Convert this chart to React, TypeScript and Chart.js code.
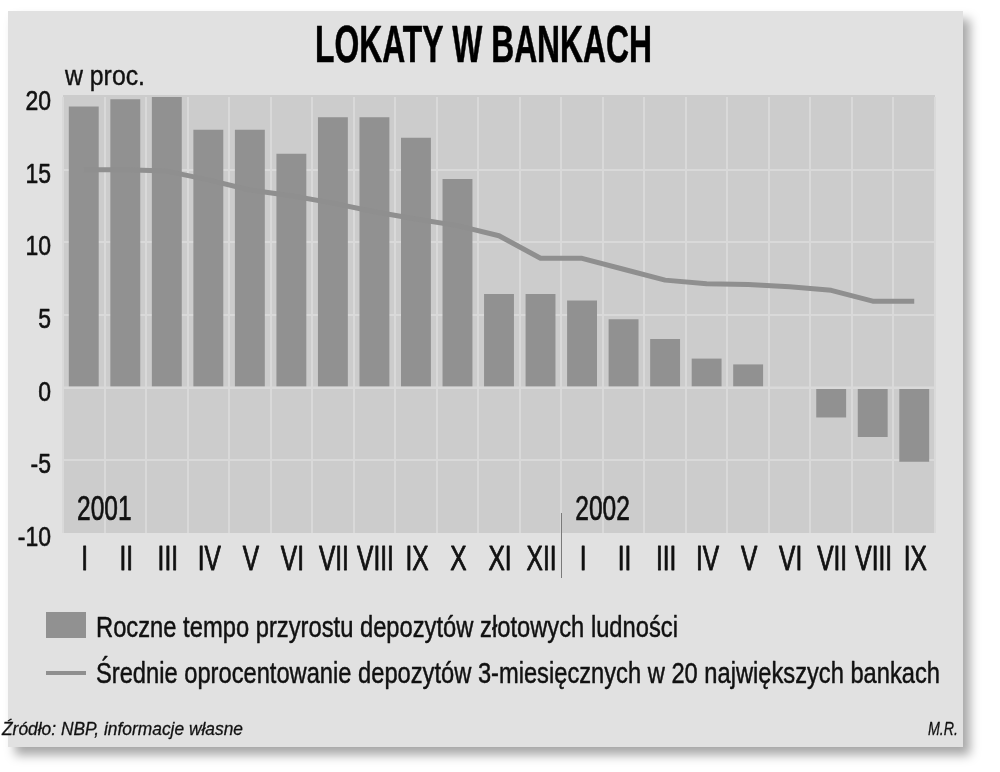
import React, { useEffect, useRef } from 'react';
import { Chart, registerables } from 'chart.js';

Chart.register(...registerables);

// ---------- data ----------
const MONTHS = ['I', 'II', 'III', 'IV', 'V', 'VI', 'VII', 'VIII', 'IX', 'X', 'XI', 'XII', 'I', 'II', 'III', 'IV', 'V', 'VI', 'VII', 'VIII', 'IX'];
const YEAR_LABELS = ['2001', '2002'];
const YEAR_START_INDEX = [0, 12];
// Roczne tempo przyrostu depozytów złotowych ludności (%)
const GROWTH = [19.35, 19.85, 20.0, 17.75, 17.75, 16.1, 18.6, 18.6, 17.2, 14.35, 6.45, 6.45, 6.0, 4.7, 3.35, 2.0, 1.6, 0, -2.05, -3.4, -5.1];
// Średnie oprocentowanie depozytów 3-miesięcznych (%)
const RATE = [15.0, 15.0, 14.9, 14.3, 13.6, 13.2, 12.7, 12.1, 11.6, 11.15, 10.45, 8.9, 8.9, 8.15, 7.4, 7.15, 7.1, 6.95, 6.7, 5.95, 5.95];
const Y_TICKS = [20, 15, 10, 5, 0, -5, -10];

const TITLE = 'LOKATY W BANKACH';
const UNIT = 'w proc.';
const LEGEND_BARS = 'Roczne tempo przyrostu depozytów złotowych ludności';
const LEGEND_LINE = 'Średnie oprocentowanie depozytów 3-miesięcznych w 20 największych bankach';
const SOURCE = 'Źródło: NBP, informacje własne';
const AUTHOR = 'M.R.';

// ---------- styles ----------
const CARD_BG = '#e1e1e1';
const PLOT_BG = '#cccccc';
const GRID = '#d9d9d9';
const BAR_COLOR = '#919191';
const LINE_COLOR = '#8f8f8f';
const TEXT = '#111111';
const FONT = '"Liberation Sans", Arial, Helvetica, sans-serif';

function paintText(ctx: CanvasRenderingContext2D, text: string, bold: number) {
  ctx.fillText(text, 0, 0);
  if (bold > 0) {
    ctx.lineWidth = bold;
    ctx.strokeStyle = ctx.fillStyle as string;
    ctx.lineJoin = 'round';
    ctx.strokeText(text, 0, 0);
  }
}

function drawFit(ctx: CanvasRenderingContext2D, text: string, x: number, baseline: number, font: string, targetW: number, bold = 0) {
  ctx.save();
  ctx.font = font;
  const w = ctx.measureText(text).width;
  const s = targetW / w;
  ctx.translate(x, baseline);
  ctx.scale(s, 1);
  ctx.textAlign = 'left';
  ctx.textBaseline = 'alphabetic';
  paintText(ctx, text, bold);
  ctx.restore();
}

function drawScaled(ctx: CanvasRenderingContext2D, text: string, x: number, baseline: number, font: string, sx: number, align: 'left' | 'center' | 'right', bold = 0) {
  ctx.save();
  ctx.font = font;
  const w = ctx.measureText(text).width * sx;
  const x0 = align === 'left' ? x : align === 'center' ? x - w / 2 : x - w;
  ctx.translate(x0, baseline);
  ctx.scale(sx, 1);
  ctx.textAlign = 'left';
  ctx.textBaseline = 'alphabetic';
  paintText(ctx, text, bold);
  ctx.restore();
}

const decorPlugin = {
  id: 'decor',
  beforeDraw(chart: any) {
    const { ctx, chartArea: a } = chart;
    ctx.save();
    ctx.fillStyle = PLOT_BG;
    ctx.fillRect(a.left, a.top - 2, a.right - a.left, a.bottom - a.top + 2);
    ctx.restore();
  },
  afterDatasetsDraw(chart: any) {
    const { ctx, chartArea: a, scales } = chart;
    const y0 = scales.y.getPixelForValue(0);
    ctx.save();
    ctx.strokeStyle = GRID;
    ctx.lineWidth = 2.5;
    ctx.beginPath();
    ctx.moveTo(a.left, y0);
    ctx.lineTo(a.right, y0);
    ctx.stroke();
    ctx.restore();
  },
  afterDraw(chart: any) {
    const { ctx, chartArea: a, scales } = chart;
    const xs = scales.x;
    const ys = scales.y;
    const step = xs.getPixelForValue(1) - xs.getPixelForValue(0);
    ctx.save();

    // title
    ctx.fillStyle = '#000';
    drawFit(ctx, TITLE, 315, 62, `bold 52px ${FONT}`, 337, 0.6);
    ctx.fillStyle = TEXT;

    // unit
    drawFit(ctx, UNIT, 65, 85, `27px ${FONT}`, 80, 0.4);

    // y tick labels
    Y_TICKS.forEach((v) => {
      const py = ys.getPixelForValue(v);
      drawScaled(ctx, String(v), 51, py + 13, `28px ${FONT}`, 0.82, 'right', 0.6);
    });

    // x tick labels
    MONTHS.forEach((m, i) => {
      const px = xs.getPixelForValue(i);
      drawScaled(ctx, m, px + 1, 570, `35px ${FONT}`, 0.7, 'center', 0.9);
    });

    // year labels
    YEAR_LABELS.forEach((yl, k) => {
      const left = xs.getPixelForValue(YEAR_START_INDEX[k]) - step / 2;
      drawScaled(ctx, yl, left + 14, 520, `35px ${FONT}`, 0.7, 'left', 0.7);
    });

    // year separator
    const sepX = Math.round(xs.getPixelForValue(YEAR_START_INDEX[1]) - step / 2) + 0.5;
    ctx.strokeStyle = '#7a7a7a';
    ctx.lineWidth = 1;
    ctx.beginPath();
    ctx.moveTo(sepX, a.bottom - 20);
    ctx.lineTo(sepX, a.bottom + 45);
    ctx.stroke();

    // legend
    const ds = chart.data.datasets;
    ctx.fillStyle = ds[0].backgroundColor;
    ctx.fillRect(46, 612, 40, 26);
    ctx.strokeStyle = ds[1].borderColor;
    ctx.lineWidth = 4;
    ctx.beginPath();
    ctx.moveTo(46, 673);
    ctx.lineTo(86, 673);
    ctx.stroke();
    ctx.fillStyle = TEXT;
    drawFit(ctx, ds[0].label, 96, 637, `30px ${FONT}`, 582, 0.5);
    drawFit(ctx, ds[1].label, 96, 683, `30px ${FONT}`, 844, 0.5);

    // source
    drawFit(ctx, SOURCE, 2, 735, `italic 19px ${FONT}`, 241, 0.3);
    drawFit(ctx, AUTHOR, 928, 735, `italic 19px ${FONT}`, 30, 0.3);
    ctx.restore();
  },
};

export default function App() {
  const ref = useRef<HTMLCanvasElement | null>(null);

  useEffect(() => {
    if (!ref.current) return;
    const chart = new Chart(ref.current, {
      type: 'bar',
      data: {
        labels: MONTHS,
        datasets: [
          {
            type: 'bar',
            label: LEGEND_BARS,
            data: GROWTH,
            backgroundColor: BAR_COLOR,
            borderWidth: 0,
            categoryPercentage: 1,
            barPercentage: 0.72,
            order: 2,
          },
          {
            type: 'line',
            label: LEGEND_LINE,
            data: RATE,
            borderColor: LINE_COLOR,
            backgroundColor: LINE_COLOR,
            borderWidth: 5,
            pointRadius: 0,
            tension: 0,
            borderJoinStyle: 'round',
            order: 1,
          } as any,
        ],
      },
      options: {
        responsive: false,
        animation: false,
        devicePixelRatio: 1,
        layout: { padding: { left: 63, right: 65, top: 97, bottom: 239 } },
        plugins: {
          legend: { display: false },
          title: { display: false },
          tooltip: { enabled: false },
        },
        scales: {
          x: {
            offset: true,
            grid: {
              display: true,
              offset: true,
              color: GRID,
              lineWidth: 2,
              drawTicks: false,
            },
            border: { display: false },
            ticks: { display: false },
          },
          y: {
            min: -10,
            max: 20,
            ticks: { display: false, stepSize: 5 },
            grid: {
              color: (c: any) => (c.tick && (c.tick.value === 20 || c.tick.value === -10) ? 'rgba(0,0,0,0)' : GRID),
              lineWidth: 2,
              drawTicks: false,
            },
            border: { display: false },
          },
        },
      },
      plugins: [decorPlugin],
    });
    return () => chart.destroy();
  }, []);

  return (
    <div style={{ position: 'absolute', left: 0, top: 0, width: 1000, height: 772, background: '#ffffff', overflow: 'hidden' }}>
      <div
        style={{
          position: 'absolute',
          left: 8,
          top: 11,
          width: 955,
          height: 736,
          background: CARD_BG,
          boxShadow: '7px 8px 10px rgba(0,0,0,0.35)',
        }}
      />
      <canvas ref={ref} width={1000} height={772} style={{ position: 'absolute', left: 0, top: 0 }} />
    </div>
  );
}
